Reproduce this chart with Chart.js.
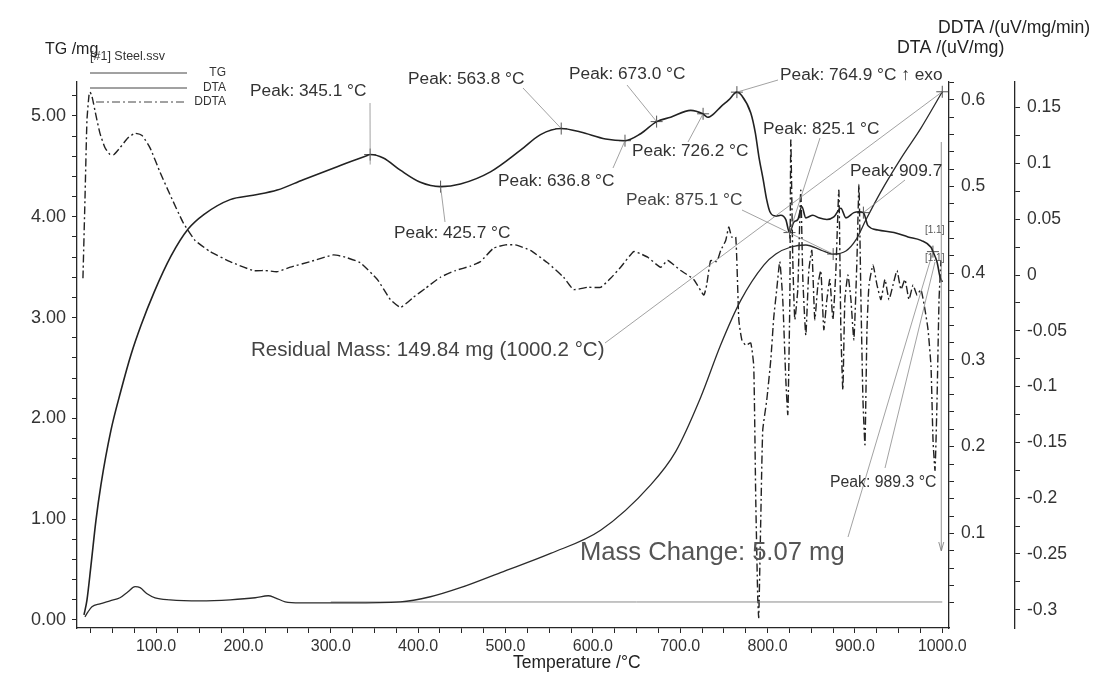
<!DOCTYPE html>
<html><head><meta charset="utf-8">
<script src="https://cdn.jsdelivr.net/npm/chart.js@4/dist/chart.umd.min.js"></script>
<style>html,body{margin:0;padding:0;background:#fff;}#wrap{width:1096px;height:675px;}</style>
</head><body><div id="wrap"><canvas id="c" width="1096" height="675"></canvas></div>
<script>
// ---------- DATA ----------
const tgTemps = [18.6,22.1,26.6,35.8,47.3,58.7,67.9,75.9,81.7,89.7,98.9,116,150.4,184.8,213.5,228.4,236.4,247.8,265,322.3,379.6,414,448.4,494.3,551.6,608.9,666.2,694.8,723.5,746.4,769.3,795.7,809.5,826.7,843.8,861,875.1,889.7,901.1,912.6,929.8,952.7,975.6,1000];
const tgValues = [0.03,0.08,0.13,0.16,0.19,0.22,0.28,0.33,0.32,0.26,0.22,0.20,0.19,0.20,0.22,0.24,0.22,0.18,0.17,0.17,0.18,0.23,0.32,0.47,0.66,0.89,1.34,1.67,2.21,2.73,3.17,3.52,3.63,3.70,3.72,3.67,3.63,3.66,3.77,3.97,4.25,4.58,4.88,5.24];

const dtaTemps = [17.5,20.9,25.5,31.2,36.9,48.4,59.9,71.3,82.8,97.7,117.2,136.7,155.0,184.8,211.2,238.7,268.5,307.4,341.8,345.1,360.2,379.6,402.6,425.7,448.4,482.8,517.2,540.1,563.8,585.9,614.6,636.8,654.7,673.0,689.1,712,725.8,731.5,738.4,746.4,755.6,764.9,770.5,780.8,786,790,795,799,802.7,809.5,815.2,820.9,825.1,830,834.6,839.2,843.8,851.9,858.7,867.9,875.9,883.9,889.7,898.8,904.6,909.7,914.9,926.4,944.7,960.8,975.6,987.1,989.3,994,997.4,1000];
const dtaValues = [0.006,0.023,0.063,0.115,0.156,0.219,0.265,0.306,0.340,0.378,0.420,0.451,0.468,0.485,0.490,0.496,0.508,0.523,0.536,0.537,0.533,0.519,0.505,0.500,0.503,0.517,0.542,0.560,0.567,0.563,0.555,0.553,0.561,0.575,0.580,0.588,0.584,0.580,0.584,0.592,0.600,0.609,0.605,0.585,0.562,0.535,0.508,0.485,0.471,0.466,0.467,0.462,0.447,0.459,0.462,0.477,0.464,0.467,0.464,0.462,0.465,0.475,0.464,0.470,0.471,0.470,0.455,0.450,0.447,0.442,0.438,0.430,0.425,0.413,0.396,0.390];

const ddtaTemps = [16.3,18.6,20.9,23.2,24.4,26.7,31.2,35.8,41.6,47.3,51.9,58.7,67.9,75.9,84,93.1,104.6,116,131,144.7,161.9,184.8,211.2,224.9,238.7,253.6,276.5,302.9,316.6,333.8,353.3,368.2,379.6,388.8,394.5,408.3,425.5,442.7,459.9,471.3,486.2,500,511.4,528.6,548.1,566.5,577.9,594,608.9,620.3,631.8,646.7,654.7,662.7,677.6,685.7,700.6,715.5,727,730.3,734.9,741.8,746.4,752.1,755.6,759,763.6,767.1,770.5,775.1,780.8,784.2,786.5,788.8,789.9,792.2,794.5,799.1,803.7,807.1,810.5,814,817.4,820.9,823.2,825.5,826.6,828.9,831.2,834.6,838,840.4,843.8,847.2,850.7,854.1,857.6,861,864.4,867.9,871.3,874.8,878.2,881.6,883.9,886.2,888.5,892,895.4,898.8,902.3,904.6,906.9,909.2,911.5,913.8,916.1,920.7,925.3,929.8,934.4,939,943.6,948.2,952.7,957.3,961.9,966.5,971.1,975.6,980.2,983.7,987.1,989.4,991.7,994,996.3,998.5];
const ddtaValues = [-0.003,0.067,0.139,0.161,0.164,0.160,0.143,0.127,0.114,0.108,0.108,0.114,0.123,0.127,0.125,0.114,0.092,0.072,0.047,0.031,0.021,0.012,0.004,0.004,0.003,0.007,0.012,0.018,0.016,0.011,-0.004,-0.022,-0.029,-0.024,-0.020,-0.012,-0.002,0.004,0.008,0.012,0.024,0.027,0.027,0.022,0.011,-0.002,-0.013,-0.011,-0.011,-0.003,0.007,0.021,0.019,0.016,0.007,0.013,0.004,-0.004,-0.018,-0.009,0.013,0.012,0.022,0.031,0.043,0.034,0.034,-0.040,-0.058,-0.063,-0.061,-0.082,-0.202,-0.291,-0.307,-0.220,-0.139,-0.112,-0.076,-0.038,-0.013,0.012,-0.022,-0.094,-0.125,-0.022,0.121,0.013,-0.040,-0.013,0.076,-0.004,-0.054,0.004,0.022,-0.040,-0.009,0.004,-0.049,-0.022,-0.004,-0.040,0.004,0.076,-0.049,-0.103,-0.022,0.000,-0.022,-0.058,0.013,0.081,-0.022,-0.112,-0.152,-0.049,-0.009,0.009,-0.009,-0.022,-0.004,-0.022,-0.009,0.004,-0.013,-0.004,-0.022,-0.009,-0.018,-0.013,-0.031,-0.049,-0.082,-0.148,-0.175,-0.112,-0.022,0.013];

const baseTemps = [300, 1000];
const baseValues = [0.178, 0.178];

const dtaPeakTemps = [345.1,425.7,563.8,636.8,673.0,726.2,764.9,825.1,909.7,989.3];
const dtaPeakValues = [0.537,0.500,0.567,0.553,0.575,0.584,0.609,0.447,0.470,0.425];
const tgMarkTemps = [875.1,1000];
const tgMarkValues = [3.63,5.24];

const xMajorTicks = [100,200,300,400,500,600,700,800,900,1000];
const tgMajorTicks = [0,1,2,3,4,5];
const dtaMajorTicks = [0.1,0.2,0.3,0.4,0.5,0.6];
const ddtaMajorTicks = [-0.3,-0.25,-0.2,-0.15,-0.1,-0.05,0,0.05,0.1,0.15];

// ---------- helpers ----------
function pts(t, v){ return t.map((x,i)=>({x:x, y:v[i]})); }
function stepTicks(from, to, step, den){
  const out=[]; const a=Math.round(from*den), b=Math.round(to*den), s=Math.round(step*den);
  for(let k=a;k<=b;k+=s) out.push(k/den); return out;
}
function isMajor(v, list){ return list.some(m=>Math.abs(m-v)<1e-6); }
const INK = '#262626';
const FONT = 'Liberation Sans, Arial, sans-serif';

const axisCommon = ()=>({
  grid:{drawOnChartArea:false, drawTicks:true, tickLength:5, color:INK, lineWidth:1},
  border:{display:true, color:INK, width:1.3}
});

const annot = {
  id:'annot',
  afterDatasetsDraw(chart){
    const ctx = chart.ctx, X = chart.scales.x, D = chart.scales.yDTA, T = chart.scales.yTG;
    ctx.save();
    ctx.strokeStyle = '#8a8a8a'; ctx.lineWidth = 0.8;
    const line=(x1,y1,x2,y2)=>{ctx.beginPath();ctx.moveTo(x1,y1);ctx.lineTo(x2,y2);ctx.stroke();};
    const dp=(i)=>[X.getPixelForValue(dtaPeakTemps[i]), D.getPixelForValue(dtaPeakValues[i])];
    const tp=(i)=>[X.getPixelForValue(tgMarkTemps[i]), T.getPixelForValue(tgMarkValues[i])];
    const conn = [[370,103,0],[445,222,1],[523,88,2],[613,168,3],[627,85,4],[688,142,5],[778,80,6],[820,138,7],[905,180,8],[848,537,9]];
    conn.forEach(c=>{const p=dp(c[2]); line(c[0],c[1],p[0],p[1]);});
    let p = tp(0); line(742,210,p[0],p[1]);
    p = tp(1); line(605,343,p[0],p[1]);
    line(885,468,935,262);
    let q = dp(0); line(q[0],q[1],q[0],q[1]+10);
    const mx = X.getPixelForValue(1000)-1;
    ctx.strokeStyle='#777'; line(mx,142,mx,550);
    ctx.beginPath(); ctx.moveTo(mx-2.5,542); ctx.lineTo(mx,551); ctx.lineTo(mx+2.5,542); ctx.stroke();

    ctx.textBaseline='middle'; ctx.textAlign='left';
    const txt=(s,x,y,size,col)=>{ctx.font=size+'px '+FONT; ctx.fillStyle=col||'#333'; ctx.fillText(s,x,y);};
    const PS = 17.3;
    txt('Peak: 345.1 °C',250,91,PS);
    txt('Peak: 425.7 °C',394,233,PS);
    txt('Peak: 563.8 °C',408,79,PS);
    txt('Peak: 636.8 °C',498,181,PS);
    txt('Peak: 673.0 °C',569,74,PS);
    txt('Peak: 726.2 °C',632,151,PS);
    txt('Peak: 764.9 °C \u2191 exo',780,75,PS);
    txt('Peak: 825.1 °C',763,129,PS);
    txt('Peak: 875.1 °C',626,200,PS,'#444');
    txt('Peak: 909.7',850,171,PS);
    txt('Peak: 989.3 °C',830,483,15.8);
    txt('Residual Mass: 149.84 mg (1000.2 °C)',251,350,20.5,'#444');
    txt('Mass Change: 5.07 mg',580,553,25.6,'#555');
    txt('[1.1]',925,230,10,'#555');
    txt('[1.1]',925,258,10,'#555');

    txt('TG /mg',45,50,16,'#222');
    txt('DTA /(uV/mg)',897,48,17.8,'#222');
    txt('DDTA /(uV/mg/min)',938,28,17.6,'#222');
    txt('Temperature /°C',513,663,17.5,'#222');

    txt('[#1] Steel.ssv',90,57,12.5,'#333');
    ctx.strokeStyle='#444'; ctx.lineWidth=1;
    line(90,73,187,73); line(90,88,187,88);
    ctx.setLineDash([8,3,2,3]); line(96,102,187,102); ctx.setLineDash([]);
    ctx.textAlign='right';
    txt('TG',226,73,12,'#333'); txt('DTA',226,88,12,'#333'); txt('DDTA',226,102,12,'#333');
    ctx.restore();
  }
};

new Chart(document.getElementById('c'), {
  type:'line',
  data:{datasets:[
    {label:'TG', data:pts(tgTemps,tgValues), yAxisID:'yTG', borderColor:'#2b2b2b', borderWidth:1.3, pointRadius:0, cubicInterpolationMode:'monotone'},
    {label:'TGbase', data:pts(baseTemps,baseValues), yAxisID:'yTG', borderColor:'#8a8a8a', borderWidth:1, pointRadius:0},
    {label:'DTA', data:pts(dtaTemps,dtaValues), yAxisID:'yDTA', borderColor:'#222', borderWidth:1.6, pointRadius:0, cubicInterpolationMode:'monotone'},
    {label:'DDTA', data:pts(ddtaTemps,ddtaValues), yAxisID:'yDDTA', borderColor:'#222', borderWidth:1.4, borderDash:[8,3,2,3], pointRadius:0, tension:0.15},
    {label:'peaks', data:pts(dtaPeakTemps,dtaPeakValues), yAxisID:'yDTA', showLine:false, pointStyle:'cross', pointRadius:6, borderColor:'#555', borderWidth:1},
    {label:'tgmarks', data:pts(tgMarkTemps,tgMarkValues), yAxisID:'yTG', showLine:false, pointStyle:'cross', pointRadius:6, borderColor:'#555', borderWidth:1}
  ]},
  options:{
    responsive:false, animation:false, devicePixelRatio:1,
    layout:{padding:{top:82,left:0,right:0,bottom:0}},
    plugins:{legend:{display:false}, tooltip:{enabled:false}},
    scales:{
      x:Object.assign(axisCommon(),{type:'linear', position:'bottom', min:9.5, max:1007.7,
        afterBuildTicks:(s)=>{s.ticks=stepTicks(25,1000,25,1).map(v=>({value:v}));},
        afterFit:(s)=>{s.height=47;},
        ticks:{autoSkip:false,maxRotation:0,padding:4,color:'#333',font:{family:FONT,size:16},callback:(v)=>isMajor(v,xMajorTicks)?v.toFixed(1):''}}),
      yTG:Object.assign(axisCommon(),{type:'linear', position:'left', min:-0.08, max:5.337,
        afterBuildTicks:(s)=>{s.ticks=stepTicks(0,5.2,0.2,10).map(v=>({value:v}));},
        afterFit:(s)=>{s.width=77;},
        ticks:{autoSkip:false,padding:6,color:'#333',font:{family:FONT,size:18},callback:(v)=>isMajor(v,tgMajorTicks)?v.toFixed(2):''}}),
      yDTA:Object.assign(axisCommon(),{type:'linear', position:'right', weight:0, min:-0.0092, max:0.6207,
        afterBuildTicks:(s)=>{s.ticks=stepTicks(0.02,0.62,0.02,100).map(v=>({value:v}));},
        afterFit:(s)=>{s.width=66;},
        ticks:{autoSkip:false,padding:7,color:'#333',font:{family:FONT,size:17.5},callback:(v)=>isMajor(v,dtaMajorTicks)?String(Math.round(v*10)/10):''}}),
      yDDTA:Object.assign(axisCommon(),{type:'linear', position:'right', weight:1, min:-0.3164, max:0.173,
        afterBuildTicks:(s)=>{s.ticks=stepTicks(-0.3,0.15,0.025,1000).map(v=>({value:v}));},
        afterFit:(s)=>{s.width=81;},
        ticks:{autoSkip:false,padding:7,color:'#333',font:{family:FONT,size:17.5},callback:(v)=>isMajor(v,ddtaMajorTicks)?String(Math.round(v*100)/100):''}})
    }
  },
  plugins:[annot]
});
</script></body></html>
